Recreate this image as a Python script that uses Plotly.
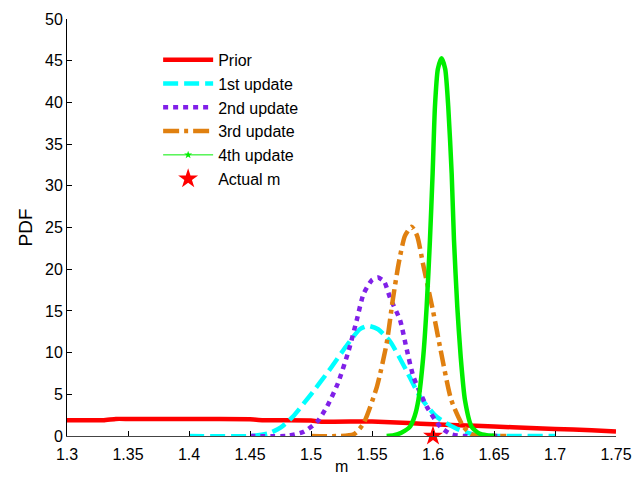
import plotly.graph_objects as go

# Prior
prior_m = [1.30, 1.33, 1.34, 1.35, 1.40, 1.45, 1.46, 1.50, 1.51, 1.55, 1.58, 1.60, 1.62, 1.65, 1.68, 1.70, 1.73, 1.75]
prior_pdf = [1.9, 1.9, 2.05, 2.05, 2.05, 2.0, 1.9, 1.85, 1.7, 1.75, 1.55, 1.4, 1.3, 1.15, 0.95, 0.85, 0.7, 0.55]

# 1st update
u1_m = [1.40, 1.45, 1.465, 1.475, 1.485, 1.50, 1.515, 1.53, 1.54, 1.547, 1.555, 1.565, 1.578, 1.589, 1.603, 1.619, 1.635, 1.65, 1.70]
u1_pdf = [0.0, 0.0, 0.3, 1.0, 2.3, 5.0, 7.9, 11.0, 12.8, 13.2, 12.8, 11.3, 7.9, 4.8, 2.3, 0.9, 0.1, 0.0, 0.0]

# 2nd update
u2_m = [1.45, 1.48, 1.494, 1.505, 1.513, 1.522, 1.531, 1.5375, 1.543, 1.55, 1.555, 1.56, 1.565, 1.573, 1.578, 1.584, 1.595, 1.606, 1.615, 1.625, 1.656]
u2_pdf = [0.0, 0.0, 0.5, 1.7, 3.5, 6.3, 10.3, 13.9, 17.0, 18.7, 19.0, 18.5, 16.5, 13.9, 10.7, 7.1, 3.5, 1.1, 0.2, 0.0, 0.0]

# 3rd update
u3_m = [1.50, 1.535, 1.543, 1.554, 1.562, 1.567, 1.572, 1.577, 1.5825, 1.587, 1.592, 1.600, 1.606, 1.615, 1.625, 1.632, 1.66]
u3_pdf = [0.0, 0.2, 1.5, 5.9, 11.1, 16.3, 20.8, 24.0, 25.1, 24.0, 20.5, 15.0, 10.5, 4.3, 1.1, 0.2, 0.0]

# 4th update
u4_m = [1.562, 1.568, 1.574, 1.581, 1.585, 1.588, 1.592, 1.5948, 1.5975, 1.5997, 1.6016, 1.604, 1.607, 1.610, 1.6125, 1.6153, 1.6172, 1.6199, 1.6227, 1.6262, 1.6317, 1.638, 1.644, 1.651]
u4_pdf = [0.0, 0.1, 0.4, 1.1, 2.4, 4.3, 9.5, 15.5, 23.5, 31.5, 39.5, 44.0, 45.3, 44.0, 39.5, 31.5, 23.5, 15.5, 9.5, 4.3, 1.1, 0.3, 0.1, 0.0]

actual_m = [1.60]
actual_pdf = [0.0]

x_ticks = [1.3, 1.35, 1.4, 1.45, 1.5, 1.55, 1.6, 1.65, 1.7, 1.75]
y_ticks = [0, 5, 10, 15, 20, 25, 30, 35, 40, 45, 50]

RED = "#ff0000"
CYAN = "#00ffff"
PURPLE = "#8020e8"
ORANGE = "#e08010"
GREEN = "#00ee00"

fig = go.Figure()
fig.add_trace(go.Scatter(x=prior_m, y=prior_pdf, mode="lines", name="Prior",
                         line=dict(color=RED, width=4.5, shape="spline", smoothing=0.3)))
fig.add_trace(go.Scatter(x=u1_m, y=u1_pdf, mode="lines", name="1st update",
                         line=dict(color=CYAN, width=4.5, dash="15px,6px", shape="spline", smoothing=0.6)))
fig.add_trace(go.Scatter(x=u2_m, y=u2_pdf, mode="lines", name="2nd update",
                         line=dict(color=PURPLE, width=4.5, dash="5px,5px", shape="spline", smoothing=0.6)))
fig.add_trace(go.Scatter(x=u3_m, y=u3_pdf, mode="lines", name="3rd update",
                         line=dict(color=ORANGE, width=4.5, dash="16px,5px,4px,5px", shape="spline", smoothing=0.6)))
fig.add_trace(go.Scatter(x=u4_m, y=u4_pdf, mode="lines", name="4th update", showlegend=False,
                         line=dict(color=GREEN, width=4.5, shape="spline", smoothing=0.6)))
fig.add_trace(go.Scatter(x=[None], y=[None], mode="lines+markers", name="4th update",
                         line=dict(color=GREEN, width=1),
                         marker=dict(symbol="star", size=6, color=GREEN)))
fig.add_trace(go.Scatter(x=actual_m, y=actual_pdf, mode="markers", name="Actual m", cliponaxis=False,
                         marker=dict(symbol="star", size=15, color=RED)))

fig.update_layout(
    width=644, height=482,
    paper_bgcolor="white", plot_bgcolor="white",
    margin=dict(l=67, r=28, t=19, b=46),
    font=dict(family="Liberation Sans, Arial, sans-serif", size=16, color="black"),
    showlegend=True,
    legend=dict(x=0.166, y=0.943, xanchor="left", yanchor="top", bgcolor="rgba(0,0,0,0)",
                borderwidth=0, font=dict(size=16), tracegroupgap=0, itemwidth=50),
    xaxis=dict(range=[1.3, 1.75], tickvals=x_ticks, ticktext=[f"{t:g}" for t in x_ticks],
               ticks="inside", ticklen=5, tickcolor="black", showgrid=False, zeroline=False,
               showline=True, linecolor="#444", linewidth=1, mirror=False, automargin=False,
               ticklabelstandoff=4, tickfont=dict(size=16)),
    yaxis=dict(range=[0, 50], tickvals=y_ticks, ticks="inside", ticklen=5, tickcolor="black",
               showgrid=False, zeroline=False, showline=True, linecolor="black", linewidth=1,
               automargin=False,
               title=dict(text="PDF", standoff=7), tickfont=dict(size=16)),
    annotations=[dict(text="m", xref="paper", yref="paper", x=0.5, y=-0.072,
                      xanchor="center", yanchor="middle", showarrow=False,
                      font=dict(size=16))],
)
fig.write_html("out.html")
